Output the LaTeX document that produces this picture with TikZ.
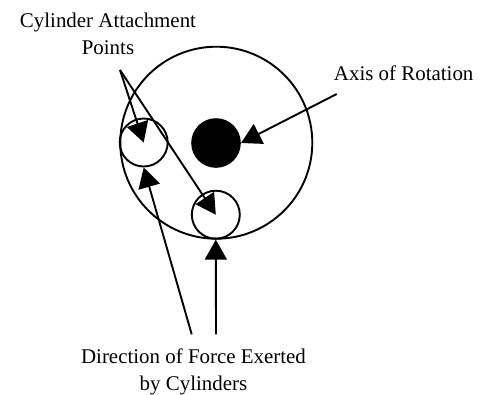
\documentclass[tikz,border=0pt]{standalone}
\usepackage{fontspec}
\setmainfont{Liberation Serif}
\usetikzlibrary{arrows.meta}
\begin{document}
\begin{tikzpicture}[x=1bp,y=-1bp,
  ln/.style={line width=1.9bp},
  wheel/.style={circle,draw,ln,inner sep=0pt},
  arr/.style={ln,-{Triangle[length=20bp,width=22bp]}},
  lbl/.style={font=\fontsize{21}{26.7}\selectfont,align=center,inner sep=0pt,anchor=base}]
\useasboundingbox (0,0) rectangle (483,394);
\node[wheel,minimum size=192bp] (outer) at (216.3,142.7) {};
\node[circle,fill=black,inner sep=0pt,minimum size=49.6bp] (hub) at (216,143) {};
\node[wheel,minimum size=48bp] (left) at (143.7,142.5) {};
\node[wheel,minimum size=48bp] (bottom) at (215.8,214.7) {};
\node[lbl] (cap) at (108,54.3) {Cylinder Attachment\\Points};
\node[lbl] (axl) at (403.7,80) {Axis of Rotation};
\node[lbl] (dir) at (193.5,390) {Direction of Force Exerted\\by Cylinders};
\coordinate (ap) at (120,70);
\coordinate (ax) at (336.7,94);
\coordinate (d1) at (191.7,334.3);
\coordinate (d2) at (216,334.3);
\draw[arr] (ap) -- (left.center);
\draw[arr] (ap) -- (bottom.center);
\draw[arr] (ax) -- (hub.east);
\draw[arr] (d1) -- (left.south);
\draw[arr] (d2) -- (bottom.south);
\end{tikzpicture}
\end{document}
